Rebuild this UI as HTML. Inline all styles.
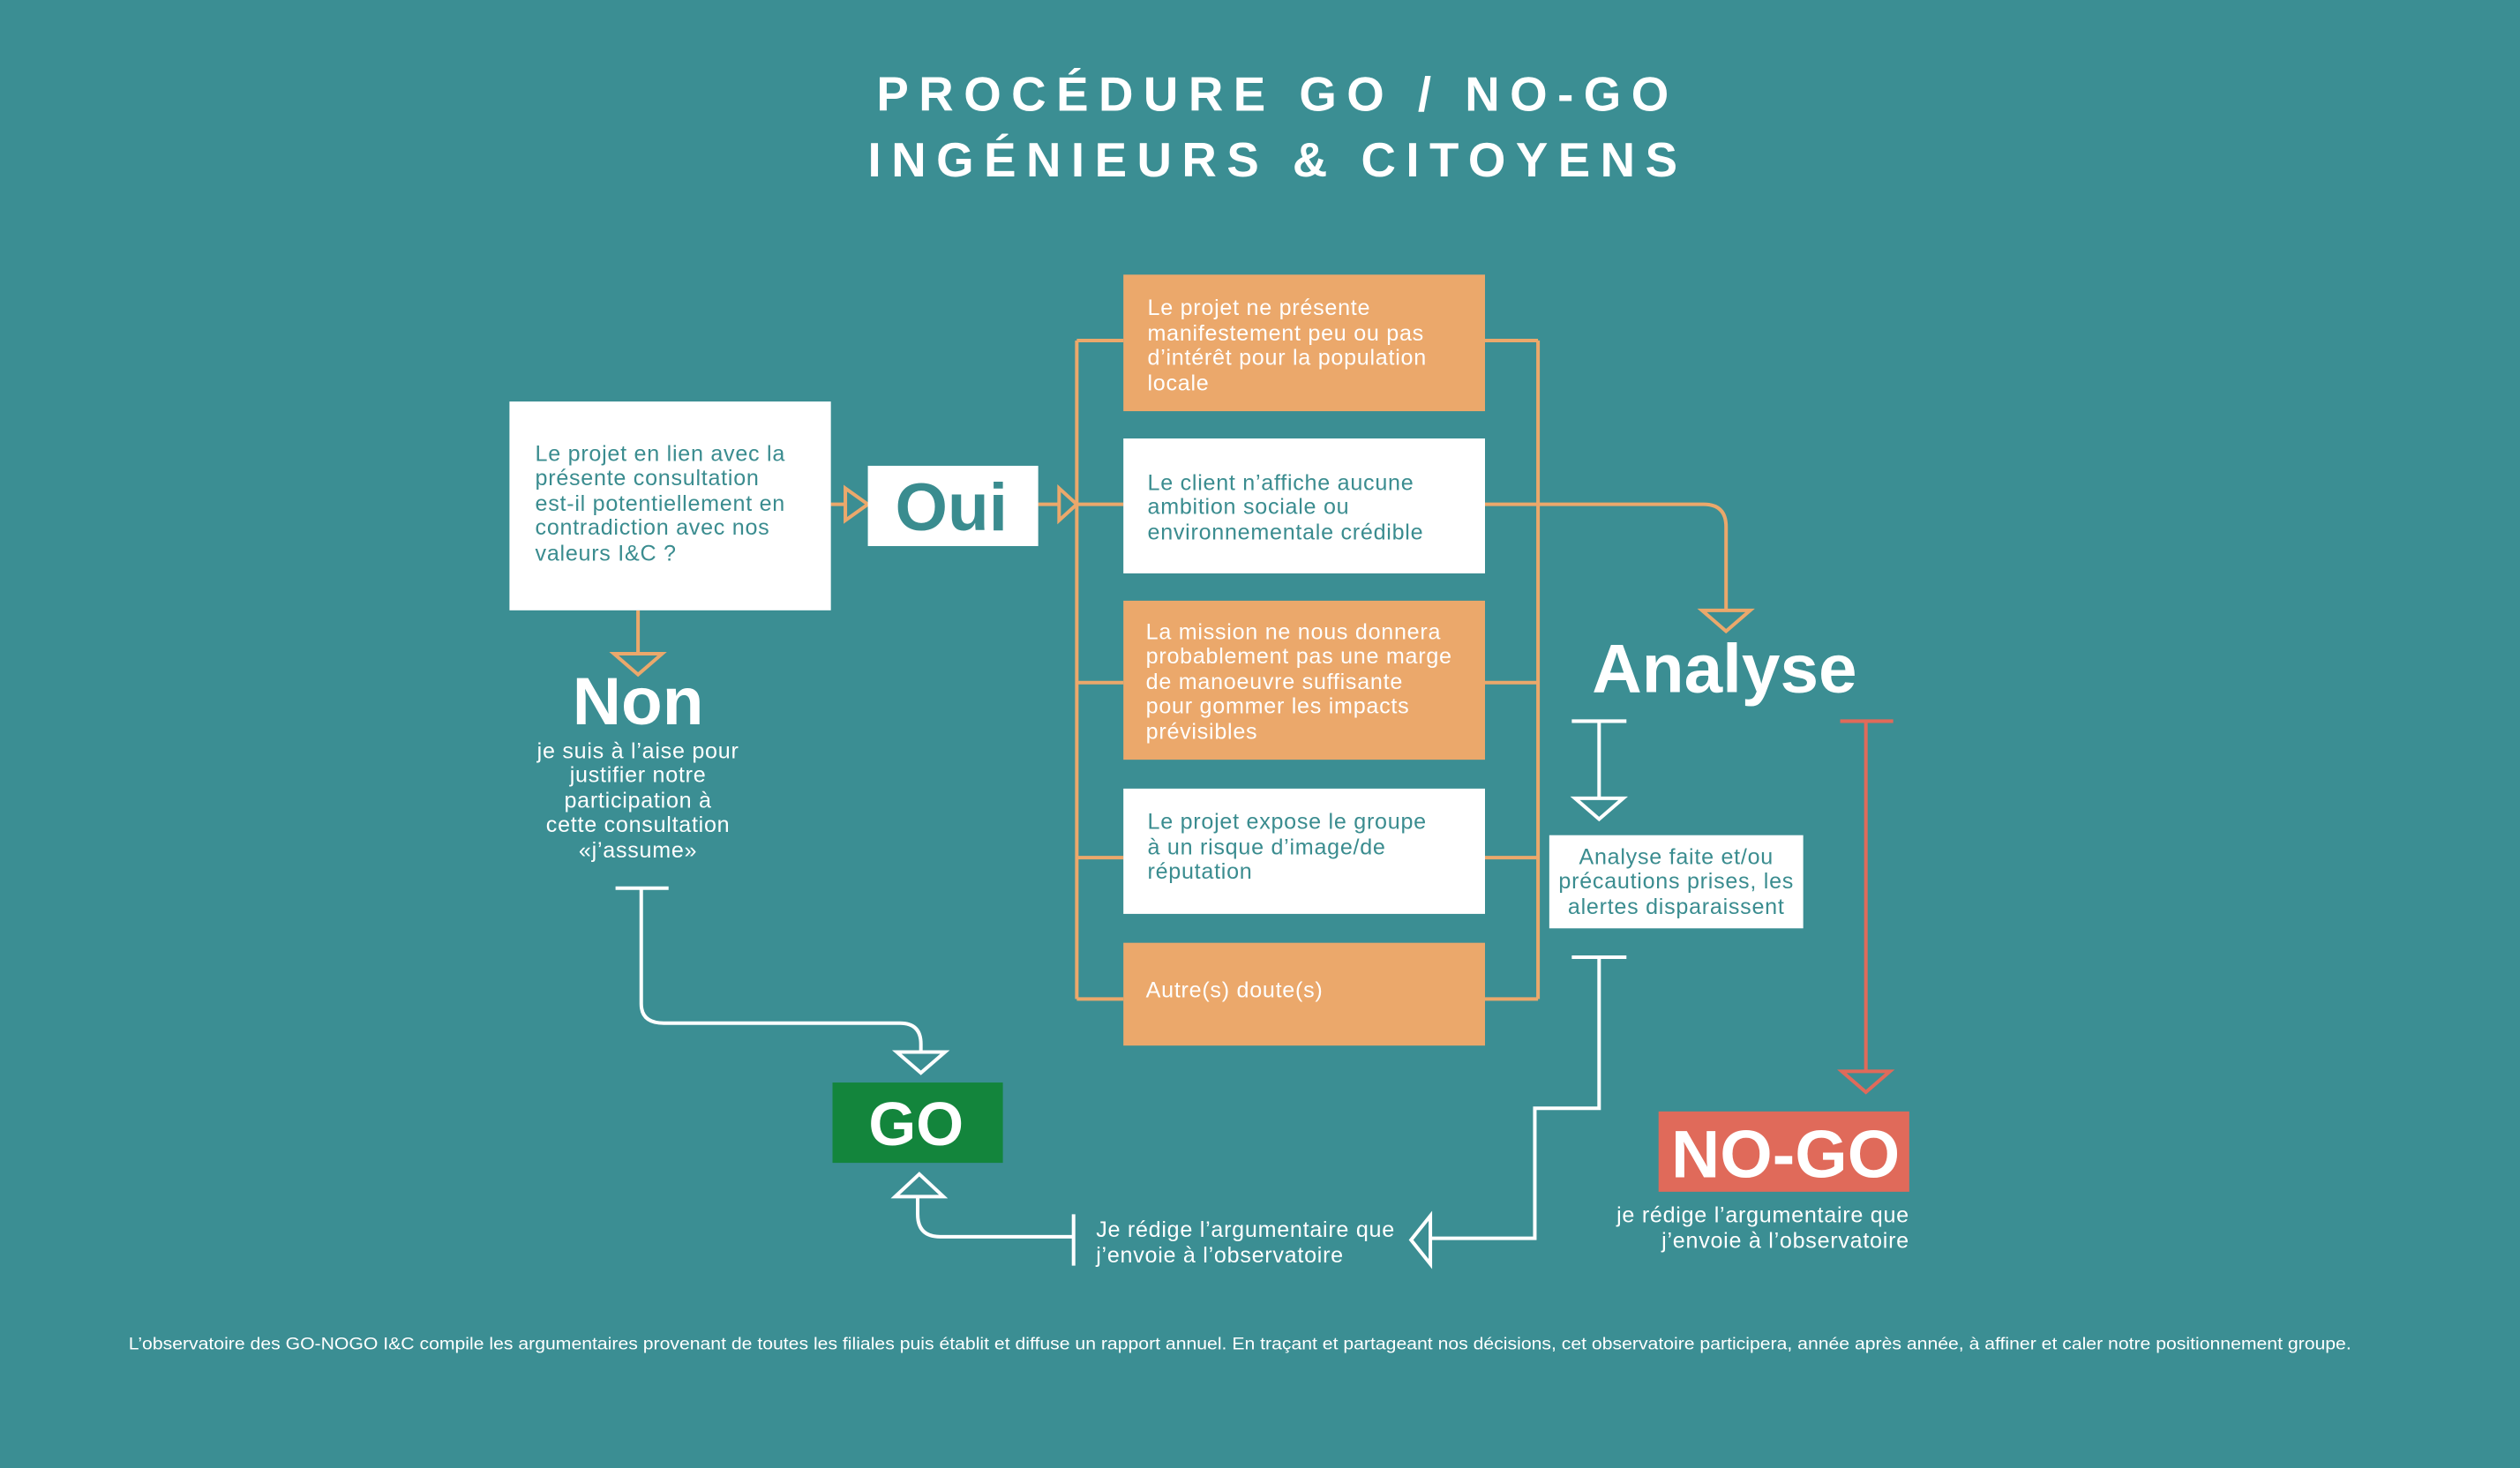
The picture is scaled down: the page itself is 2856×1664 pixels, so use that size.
<!DOCTYPE html>
<html><head><meta charset="utf-8"><style>
html,body{margin:0;padding:0;background:#3b8e93}
svg{display:block}
text{font-family:"Liberation Sans",sans-serif}
</style></head><body>
<svg width="2856" height="1664" viewBox="0 0 1568 914" preserveAspectRatio="none" xmlns="http://www.w3.org/2000/svg">
<rect width="1568" height="914" fill="#3b8e93"/>
<g fill="#fff" font-weight="bold" font-size="30" text-anchor="middle" letter-spacing="6.3">
<text x="795" y="69">PROCÉDURE GO / NO-GO</text>
<text x="795" y="110">INGÉNIEURS &amp; CITOYENS</text>
</g>
<g stroke="#eba86b" stroke-width="2.2" fill="none">
<path d="M517 314H526M646 314H659M670 212V622M670 212H699M670 314H699M670 425H699M670 534H699M670 622H699"/>
<path d="M924 212H957M924 314H957M924 425H957M924 534H957M924 622H957M957 212V622"/>
<path d="M957 314H1060Q1074 314 1074 328V380"/>
<path d="M526 304L540 314L526 324Z M659 304L670 314L659 324Z"/>
<path d="M1059 380H1089L1074 393Z"/>
<path d="M397 380V407M382 407H412L397 420Z"/>
</g>
<rect x="317" y="250" width="200" height="130" fill="#fff"/>
<rect x="540" y="290" width="106" height="50" fill="#fff"/>
<rect x="699" y="171" width="225" height="85" fill="#eba86b"/>
<rect x="699" y="273" width="225" height="84" fill="#fff"/>
<rect x="699" y="374" width="225" height="99" fill="#eba86b"/>
<rect x="699" y="491" width="225" height="78" fill="#fff"/>
<rect x="699" y="587" width="225" height="64" fill="#eba86b"/>
<rect x="964" y="520" width="158" height="58" fill="#fff"/>
<rect x="518" y="674" width="106" height="50" fill="#13853c"/>
<rect x="1032" y="692" width="156" height="50" fill="#e06a5a"/>
<g font-size="13.8" letter-spacing="0.4" fill="#3a8c8f">
<text x="333" y="287">Le projet en lien avec la</text>
<text x="333" y="302">présente consultation</text>
<text x="333" y="318">est-il potentiellement en</text>
<text x="333" y="333">contradiction avec nos</text>
<text x="333" y="349">valeurs I&amp;C ?</text>
<text x="714" y="305">Le client n’affiche aucune</text>
<text x="714" y="320">ambition sociale ou</text>
<text x="714" y="336">environnementale crédible</text>
<text x="714" y="516">Le projet expose le groupe</text>
<text x="714" y="532">à un risque d’image/de</text>
<text x="714" y="547">réputation</text>
<g text-anchor="middle"><text x="1043" y="538">Analyse faite et/ou</text><text x="1043" y="553">précautions prises, les</text><text x="1043" y="569">alertes disparaissent</text></g>
</g>
<g font-size="13.8" letter-spacing="0.4" fill="#fff">
<text x="714" y="196">Le projet ne présente</text>
<text x="714" y="212">manifestement peu ou pas</text>
<text x="714" y="227">d’intérêt pour la population</text>
<text x="714" y="243">locale</text>
<text x="713" y="398">La mission ne nous donnera</text>
<text x="713" y="413">probablement pas une marge</text>
<text x="713" y="429">de manoeuvre suffisante</text>
<text x="713" y="444">pour gommer les impacts</text>
<text x="713" y="460">prévisibles</text>
<text x="713" y="621">Autre(s) doute(s)</text>
<g text-anchor="middle"><text x="397" y="472">je suis à l’aise pour</text><text x="397" y="487">justifier notre</text><text x="397" y="503">participation à</text><text x="397" y="518">cette consultation</text><text x="397" y="534">«j’assume»</text></g>
<text x="682" y="770">Je rédige l’argumentaire que</text>
<text x="682" y="786">j’envoie à l’observatoire</text>
<g text-anchor="end"><text x="1188" y="761">je rédige l’argumentaire que</text><text x="1188" y="777">j’envoie à l’observatoire</text></g>
</g>
<g font-weight="bold" text-anchor="middle">
<text x="592" y="330" font-size="42" fill="#3a8c8f">Oui</text>
<text x="397" y="451" font-size="42" fill="#fff">Non</text>
<text x="1073" y="431" font-size="43" fill="#fff">Analyse</text>
<text x="570" y="713" font-size="38" fill="#fff">GO</text>
<text x="1111" y="733" font-size="42" fill="#fff">NO-GO</text>
</g>
<g stroke="#fff" stroke-width="2.2" fill="none">
<path d="M383 553H416M399 553V625Q399 637 413 637H560Q573 637 573 650V655M558 655H588L573 668Z"/>
<path d="M978 449H1012M995 449V497M980 497H1010L995 510Z"/>
<path d="M978 596H1012M995 596V690H955V771H890M890 757L878 772L890 787Z"/>
<path d="M668 756V788M668 770H585Q571 770 571 756V745M557 745H587L572 731Z"/>
</g>
<g stroke="#e06a5a" stroke-width="2.2" fill="none">
<path d="M1145 449H1178M1161 449V667M1146 667H1176L1161 680Z"/>
</g>
<text x="80" y="840" font-size="10.5" fill="#fff" textLength="1383" lengthAdjust="spacingAndGlyphs">L’observatoire des GO-NOGO I&amp;C compile les argumentaires provenant de toutes les filiales puis établit et diffuse un rapport annuel.  En traçant et partageant nos décisions, cet observatoire participera, année après année, à affiner et caler notre positionnement  groupe.</text>
</svg>
</body></html>
